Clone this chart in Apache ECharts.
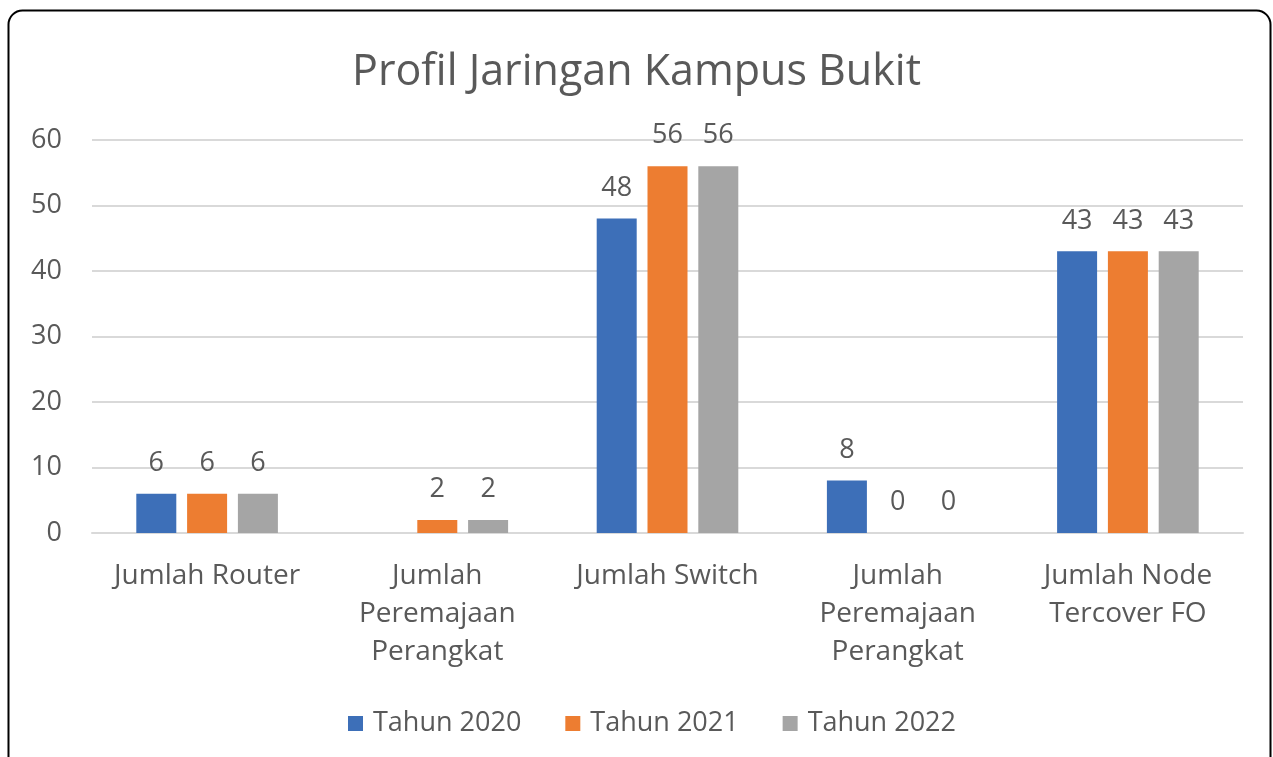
<!DOCTYPE html>
<html>
<head>
<meta charset="utf-8">
<script src="https://cdn.jsdelivr.net/npm/echarts@6/dist/echarts.min.js"></script>
<style>
  html, body { margin: 0; padding: 0; background: #fff; }
  #box1 { width: 1273px; height: 757px; }
</style>
</head>
<body>
<div id="box1"></div>
<script>
// data
var categories = [
  'Jumlah Router',
  'Jumlah\nPeremajaan\nPerangkat',
  'Jumlah Switch',
  'Jumlah\nPeremajaan\nPerangkat',
  'Jumlah Node\nTercover FO'
];
var tahun2020 = [6, '-', 48, 8, 43];
var tahun2021 = [6, 2, 56, 0, 43];
var tahun2022 = [6, 2, 56, 0, 43];
var seriesNames = ['Tahun 2020', 'Tahun 2021', 'Tahun 2022'];
var colors = ['#3d6fb8', '#ed7d31', '#a5a5a5'];

var chart = echarts.init(document.getElementById('box1'));
var font = '"Open Sans", "Noto Sans", sans-serif';
var textColor = '#595959';

function barSeries(name, data, i) {
  return {
    name: name,
    type: 'bar',
    data: data,
    barWidth: 40,
    barGap: '27%',
    itemStyle: { color: colors[i] },
    label: {
      show: true,
      position: 'top',
      distance: 17,
      color: textColor,
      fontFamily: font,
      fontSize: 27
    }
  };
}

var option = {
  animation: false,
  textStyle: { fontFamily: font },
  graphic: [{
    type: 'rect',
    shape: { x: 8.5, y: 10.5, width: 1262, height: 800, r: 14 },
    style: { fill: 'none', stroke: '#000', lineWidth: 2 },
    silent: true
  }],
  title: {
    text: 'Profil Jaringan Kampus Bukit',
    left: 'center',
    top: 46,
    textStyle: { color: textColor, fontSize: 43, fontWeight: 'normal', fontFamily: font }
  },
  legend: {
    data: seriesNames,
    bottom: 15,
    left: 343,
    icon: 'rect',
    itemWidth: 15,
    itemHeight: 15,
    itemGap: 44,
    textStyle: { color: textColor, fontSize: 27, fontFamily: font, padding: [0, 0, 0, 5] }
  },
  grid: { left: 92, right: 30, top: 140, bottom: 224 },
  xAxis: {
    type: 'category',
    data: categories,
    axisLine: { show: true, lineStyle: { color: '#d9d9d9', width: 2 } },
    axisTick: { show: false },
    axisLabel: {
      color: textColor,
      fontSize: 28,
      lineHeight: 38,
      margin: 24,
      interval: 0,
      fontFamily: font
    }
  },
  yAxis: {
    type: 'value',
    min: 0,
    max: 60,
    interval: 10,
    axisLine: { show: false },
    axisTick: { show: false },
    splitLine: { lineStyle: { color: '#d9d9d9', width: 2 } },
    axisLabel: { color: textColor, fontSize: 27, margin: 30, fontFamily: font }
  },
  series: [
    barSeries(seriesNames[0], tahun2020, 0),
    barSeries(seriesNames[1], tahun2021, 1),
    barSeries(seriesNames[2], tahun2022, 2)
  ]
};
chart.setOption(option);
</script>
</body>
</html>
